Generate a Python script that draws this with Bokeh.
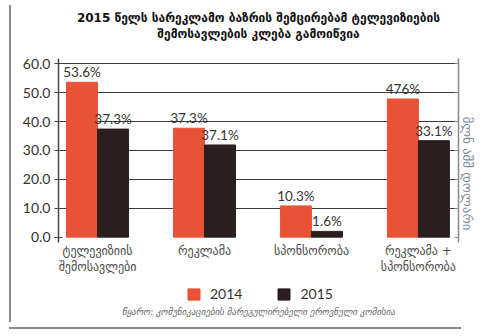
from bokeh.plotting import figure
from bokeh.models import (ColumnDataSource, Range1d, LinearAxis, FixedTicker, Title,
                          Legend, LegendItem, CustomJSTickFormatter, InlineStyleSheet)
from bokeh.core.properties import value
from bokeh.embed import file_html
from bokeh.resources import INLINE

categories = ["ტელევიზიის\nშემოსავლები", "რეკლამა", "სპონსორობა", "რეკლამა +\nსპონსორობა"]
years = ["2014", "2015"]
values_2014 = [53.6, 37.7, 10.8, 47.8]
values_2015 = [37.4, 31.9, 2.0, 33.4]
labels_2014 = ["53.6%", "37.3%", "10.3%", "476%"]
labels_2015 = ["37.3%", "37.1%", "1.6%", "33.1%"]
title_lines = ["2015 წელს სარეკლამო ბაზრის შემცირებამ ტელევიზიების",
               "შემოსავლების კლება გამოიწვია"]
unit_label = "მლნ აშშ დოლარი"
source_text = "წყარო: კომუნიკაციების მარეგულირებელი ეროვნული კომისია"
y_ticks = [0, 10, 20, 30, 40, 50, 60]

C14 = "#E85335"
C15 = "#2B1E1E"
GEO = "DejaVu Sans"
NUM = "Lato"

idx = list(range(len(categories)))
bw = 0.29
src14 = ColumnDataSource(dict(x=[i - bw / 2 for i in idx], top=values_2014, lab=labels_2014))
src15 = ColumnDataSource(dict(x=[i + bw / 2 for i in idx], top=values_2015, lab=labels_2015))
srccat = ColumnDataSource(dict(x=idx, y=[0] * len(idx), lab=categories))

Y_MIN, Y_MAX = -1.8, 61.8
p = figure(width=486, height=336, output_backend="svg", toolbar_location=None,
           x_range=Range1d(-0.365, 3.375), y_range=Range1d(-24.0, 68.06),
           min_border_left=58, min_border_right=28, min_border_top=40, min_border_bottom=30)
p.outline_line_color = None
p.background_fill_color = "white"
p.border_fill_color = "white"

r14 = p.vbar(x="x", top="top", bottom=0, width=bw, source=src14, color=C14)
r15 = p.vbar(x="x", top="top", bottom=0, width=bw, source=src15, color=C15)

for s in (src14, src15):
    p.text(x="x", y="top", text="lab", source=s, text_align="center", text_baseline="bottom",
           y_offset=-2, text_font_size="13.5px", text_color="#333333", text_font=value(NUM))

# category labels under the bars
p.text(x="x", y="y", text="lab", source=srccat, text_align="center", text_baseline="top",
       y_offset=7, text_font_size="12px", text_color="#4a4a4a", text_font=value(GEO),
       text_line_height=1.15)

p.xaxis.visible = False

# left axis
p.yaxis.ticker = FixedTicker(ticks=y_ticks)
p.yaxis.bounds = (Y_MIN, Y_MAX)
p.yaxis.formatter = CustomJSTickFormatter(code="return tick.toFixed(1)")
p.yaxis.major_label_text_font = NUM
p.yaxis.major_label_text_font_size = "14px"
p.yaxis.major_label_text_color = "#333333"
p.yaxis.axis_line_color = "#444444"
p.yaxis.axis_line_width = 1.5
p.yaxis.major_tick_line_color = "#444444"
p.yaxis.major_tick_in = 4
p.yaxis.major_tick_out = 4
p.yaxis.minor_tick_line_color = None
p.yaxis.major_label_standoff = 4

# right axis with unit label
ra = LinearAxis(ticker=FixedTicker(ticks=y_ticks), bounds=(Y_MIN, Y_MAX))
ra.major_label_text_alpha = 0
ra.major_label_text_font_size = "1px"
ra.axis_line_color = "#888888"
ra.axis_line_width = 1.5
ra.major_tick_line_color = "#888888"
ra.major_tick_in = 4
ra.major_tick_out = 0
ra.minor_tick_line_color = None
ra.major_label_standoff = 0
ra.axis_label = unit_label
ra.axis_label_text_font = GEO
ra.axis_label_text_font_size = "13px"
ra.axis_label_text_font_style = "normal"
ra.axis_label_text_color = "#7d8b99"
ra.axis_label_standoff = 1
p.add_layout(ra, "right")

p.xgrid.grid_line_color = None
p.ygrid.ticker = FixedTicker(ticks=y_ticks[1:])
p.ygrid.grid_line_color = "#3a3a3a"
p.ygrid.grid_line_width = 1

# two title lines (inner line first), each centred
p.add_layout(Title(text=title_lines[1], align="center", text_font=GEO, text_font_style="bold",
                   text_font_size="12px", text_color="#111111", standoff=0), "above")
p.add_layout(Title(text=title_lines[0], align="center", text_font=GEO, text_font_style="bold",
                   text_font_size="12px", text_color="#111111", standoff=0), "above")

legend = Legend(items=[LegendItem(label=years[0], renderers=[r14]),
                       LegendItem(label=years[1], renderers=[r15])],
                orientation="horizontal", location=(128, 4),
                glyph_width=15, glyph_height=14, label_text_font=NUM,
                label_text_font_size="14px", label_text_color="#333333",
                label_standoff=9, spacing=34, padding=0, margin=0,
                border_line_color=None, background_fill_alpha=0)
p.add_layout(legend, "center")

p.add_layout(Title(text=source_text, align="center", vertical_align="top", text_font=GEO,
                   text_font_style="italic", text_font_size="9px", text_color="#666666",
                   standoff=0), "below")

p.stylesheets = [InlineStyleSheet(css="""
:host::before {content:""; position:absolute; left:9px; top:5px; width:0; height:317px;
  border-left:2px solid #8a8a8a; z-index:10; pointer-events:none;}
:host::after {content:""; position:absolute; left:9px; top:327px; width:452px; height:0;
  border-top:2px solid #8a8a8a; z-index:10; pointer-events:none;}
""")]

html = file_html(p, INLINE)
open("out.html", "w").write(html)
